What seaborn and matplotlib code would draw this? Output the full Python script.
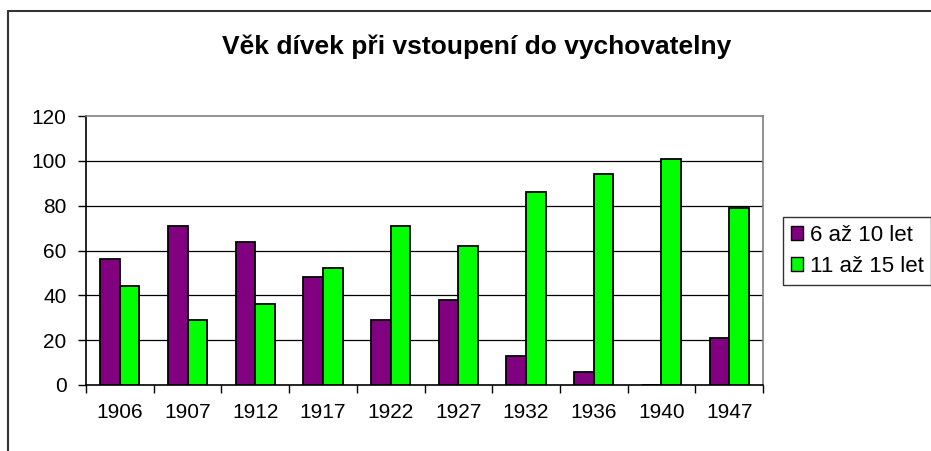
import numpy as np
import pandas as pd
import matplotlib
matplotlib.use('Agg')
import matplotlib.pyplot as plt
import seaborn as sns
from matplotlib.lines import Line2D
from matplotlib.patches import Patch

# data
years = ['1906', '1907', '1912', '1917', '1922', '1927', '1932', '1936', '1940', '1947']
age_6_10 = [56, 71, 64, 48, 29, 38, 13, 6, 0, 21]
age_11_15 = [44, 29, 36, 52, 71, 62, 86, 94, 101, 79]
series_names = ['6 až 10 let', '11 až 15 let']
series_colors = ['#800080', '#00FF00']

df = pd.DataFrame({
    'rok': years * 2,
    'pocet': age_6_10 + age_11_15,
    'vek': [series_names[0]] * len(years) + [series_names[1]] * len(years),
})

sns.set_style('white')
plt.rcParams['font.family'] = ['Liberation Sans', 'DejaVu Sans']
plt.rcParams['text.color'] = 'black'
plt.rcParams['xtick.color'] = 'black'
plt.rcParams['ytick.color'] = 'black'

fig = plt.figure(figsize=(9.31, 4.51), dpi=100)
ax = fig.add_axes([86 / 931, 66 / 451, (763 - 86) / 931, (385 - 116) / 451])

sns.barplot(data=df, x='rok', y='pocet', hue='vek', order=years,
            hue_order=series_names, palette=series_colors, saturation=1,
            width=0.58, edgecolor='black', linewidth=1.3, ax=ax,
            legend=False, zorder=3)

ax.set_ylim(0, 120)
ax.set_xlim(-0.5, len(years) - 0.5)
ax.set_yticks(range(0, 121, 20))
ax.set_xlabel('')
ax.set_ylabel('')

# gridlines
for v in range(20, 120, 20):
    ax.axhline(v, color='black', linewidth=0.9, zorder=1)

# tick marks between categories, excel style
ax.set_xticks(np.arange(len(years)))
ax.set_xticklabels(years)
ax.set_xticks(np.arange(-0.5, len(years), 1), minor=True)
ax.tick_params(axis='x', which='major', length=0, pad=13, labelsize=15)
ax.tick_params(axis='x', which='minor', length=6, width=1, direction='out')
ax.tick_params(axis='y', length=6, width=1, direction='out', pad=8, labelsize=15)
ax.tick_params(axis='both', bottom=True, left=True, which='both')

for side in ['left', 'bottom']:
    ax.spines[side].set_color('black')
    ax.spines[side].set_linewidth(1.2)
for side in ['top', 'right']:
    ax.spines[side].set_color('#808080')
    ax.spines[side].set_linewidth(1.2)

fig.text(477 / 931, 1 - 47 / 451, 'Věk dívek při vstoupení do vychovatelny',
         ha='center', va='center', fontsize=19, fontweight='bold')

handles = [Patch(facecolor=c, edgecolor='black', linewidth=1) for c in series_colors]
leg = fig.legend(handles, series_names, loc='center left',
                 bbox_to_anchor=(783 / 931, 1 - 251 / 451), fontsize=16,
                 frameon=True, fancybox=False, handlelength=0.55, handleheight=0.55,
                 handletextpad=0.3, borderpad=0.35, labelspacing=0.45, borderaxespad=0)
leg.get_frame().set_edgecolor('black')
leg.get_frame().set_linewidth(1)

# outer chart frame
fig.add_artist(Line2D([8 / 931, 8 / 931], [0, 1 - 11 / 451], color='#333333', linewidth=1.5))
fig.add_artist(Line2D([8 / 931, 1], [1 - 11 / 451, 1 - 11 / 451], color='#333333', linewidth=1.5))

fig.savefig('out.png', dpi=100)
